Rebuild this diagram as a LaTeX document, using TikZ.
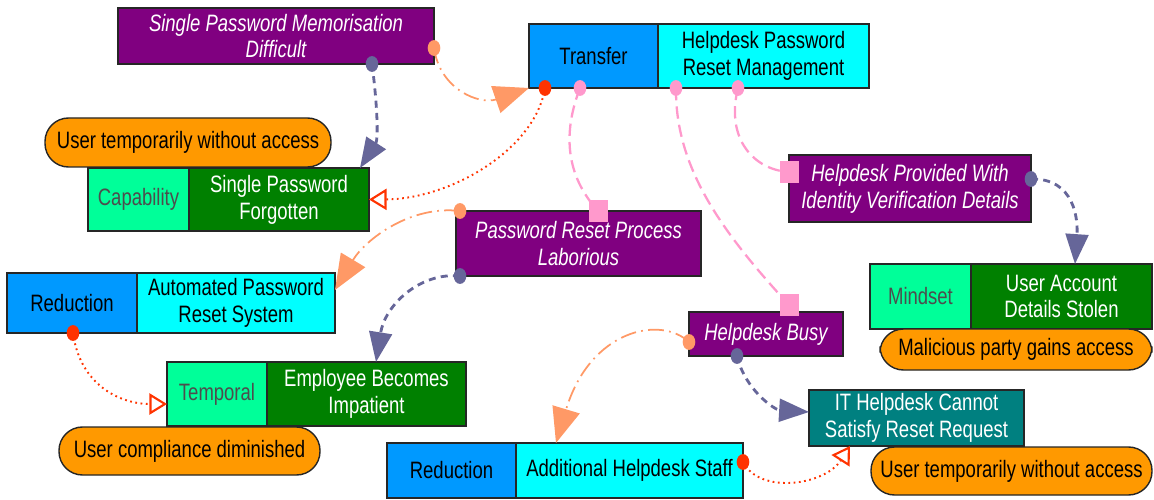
\documentclass[tikz,border=0pt]{standalone}
\usepackage{fontspec}
\setmainfont{Liberation Sans}[FakeStretch=0.78]
\usetikzlibrary{arrows.meta,calc}

\newdimen\upx \upx=0.02cm
\newcommand\fsz{\fontsize{13.5}{15.3}\selectfont}

\definecolor{cPurple}{HTML}{800080}
\definecolor{cBlue}{HTML}{0099FF}
\definecolor{cCyan}{HTML}{00FFFF}
\definecolor{cGreen}{HTML}{008000}
\definecolor{cMint}{HTML}{00FF99}
\definecolor{cOrange}{HTML}{FF9900}
\definecolor{cTeal}{HTML}{008080}
\definecolor{cSlate}{HTML}{666699}
\definecolor{cPeach}{HTML}{FF9966}
\definecolor{cRed}{HTML}{FF3300}
\definecolor{cPink}{HTML}{FF99CC}
\definecolor{cGrey}{HTML}{4D4D4D}

% box given by its corners in pixel units
\newcommand\ibox[7]{\node[#6, anchor=north west,
  minimum width={(#4-#2)*\upx}, minimum height={(#5-#3)*\upx}] (#1) at (#2,#3) {#7};}
\newcommand\dotat[2]{\fill[#1] (#2) ellipse [x radius=3.6pt, y radius=4.5pt];}

\tikzset{
  box/.style={draw=black!85, line width=0.8pt, inner sep=1pt, outer sep=0pt,
    align=center, font=\fsz},
  purp/.style={box, fill=cPurple, text=white, font=\fsz\itshape},
  blu/.style={box, fill=cBlue, text=black},
  cya/.style={box, fill=cCyan, text=black},
  grn/.style={box, fill=cGreen, text=white},
  mnt/.style={box, fill=cMint, text=cGrey},
  tea/.style={box, fill=cTeal, text=white},
  pill/.style={box, fill=cOrange, text=black, rounded corners=0.47cm},
  sq/.style={fill=cPink, minimum width=0.38cm, minimum height=0.44cm, inner sep=0pt},
  slateline/.style={cSlate, line width=1.6pt, dash pattern=on 4pt off 3pt,
    -{Triangle[length=17pt,width=13pt]}},
  peachline/.style={cPeach, line width=1pt, dash pattern=on 9pt off 3pt on 1pt off 3pt,
    -{Triangle[length=20pt,width=16pt]}},
  redline/.style={cRed, line width=1.1pt, dash pattern=on 1pt off 2pt,
    -{Triangle[open,length=10pt,width=12pt,line width=1.2pt]}},
  pinkline/.style={cPink, line width=1.3pt, dash pattern=on 7pt off 3.5pt},
}

\begin{document}
\begin{tikzpicture}[x=0.02cm, y=-0.02cm]
\useasboundingbox (0,0) rectangle (1154,500);

% ---- boxes ----
\ibox{memo}{118}{8}{434}{64}{purp}{Single Password Memorisation\\Difficult}
\ibox{trans}{529}{24}{658}{88}{blu}{Transfer}
\ibox{hprm}{658}{24}{869}{88}{cya}{Helpdesk Password\\Reset Management}
\ibox{cap}{88}{168}{189}{231}{mnt}{Capability}
\ibox{spf}{189}{168}{369}{231}{grn}{Single Password\\Forgotten}
\ibox{prp}{456}{211}{701}{276}{purp}{Password Reset Process\\Laborious}
\ibox{hpw}{789}{155}{1031}{222}{purp}{Helpdesk Provided With\\Identity Verification Details}
\ibox{red1}{7}{273}{137}{333}{blu}{Reduction}
\ibox{apr}{137}{273}{335}{333}{cya}{Automated Password\\Reset System}
\ibox{temp}{167}{362}{267}{426}{mnt}{Temporal}
\ibox{ebi}{267}{362}{466}{426}{grn}{Employee Becomes\\Impatient}
\ibox{hb}{689}{312}{843}{356}{purp}{Helpdesk Busy}
\ibox{red2}{387}{443}{516}{498}{blu}{Reduction}
\ibox{ahs}{516}{443}{743}{498}{cya}{Additional Helpdesk Staff}
\ibox{ith}{809}{390}{1024}{446}{tea}{IT Helpdesk Cannot\\Satisfy Reset Request}
\ibox{mind}{870}{264}{971}{329}{mnt}{Mindset}
\ibox{uads}{971}{264}{1152}{329}{grn}{User Account\\Details Stolen}

% ---- consequence pills ----
\ibox{pill1}{45}{118}{331}{167}{pill}{User temporarily without access}
\ibox{pill2}{59}{427}{320}{475}{pill}{User compliance diminished}
\ibox{pill3}{871}{447}{1152}{495}{pill}{User temporarily without access}
\ibox{pill4}{880}{329}{1152}{370}{pill}{Malicious party gains access}

% ---- ports ----
\coordinate (aS) at ([xshift=254\upx]memo.south west);
\coordinate (aE) at ([xshift=-9\upx]spf.north east);
\coordinate (bS) at ([yshift=16\upx]memo.south east);
\coordinate (cS) at ([xshift=16\upx]trans.south west);
\coordinate (dS) at ([xshift=51\upx]trans.south west);
\coordinate (dE) at ([xshift=142\upx]prp.north west);
\coordinate (eS) at ([xshift=18\upx]hprm.south west);
\coordinate (eE) at ([xshift=100\upx,yshift=7\upx]hb.north west);
\coordinate (fS) at ([xshift=80\upx]hprm.south west);
\coordinate (fE) at ([yshift=-17\upx]hpw.north west);
\coordinate (gS) at ([xshift=4\upx]prp.north west);
\coordinate (gE) at ([yshift=-17\upx]apr.north east);
\coordinate (hS) at ([xshift=4\upx]prp.south west);
\coordinate (hE) at ([xshift=109\upx]ebi.north west);
\coordinate (iS) at ([xshift=66\upx]red1.south west);
\coordinate (iE) at ([yshift=-10\upx]temp.west);
\coordinate (jS) at ([yshift=-30\upx]hb.north west);
\coordinate (jE) at ([xshift=40\upx]ahs.north west);
\coordinate (kS) at ([xshift=48\upx]hb.south west);
\coordinate (kE) at ([yshift=-22\upx]ith.north west);
\coordinate (lS) at ([yshift=-19\upx]ahs.north east);
\coordinate (lE) at ([xshift=41\upx]ith.south west);
\coordinate (mS) at ([yshift=-24\upx]hpw.north east);
\coordinate (mE) at ([xshift=104\upx]uads.north west);

% ---- connectors ----
\draw[slateline] (aS) .. controls (378,110) and (378,140) .. (aE);
\draw[peachline] (bS) .. controls (440,90) and (480,105) .. (trans.south west);
\draw[redline] (cS) .. controls (535,150) and (450,199) .. (spf.east);
\draw[pinkline] (dS) .. controls (560,140) and (570,180) .. (dE);
\draw[pinkline] (eS) .. controls (675,170) and (725,235) .. (eE);
\draw[pinkline] (fS) .. controls (725,140) and (755,170) .. (fE);
\draw[peachline] (gS) .. controls (410,205) and (365,240) .. (gE);
\draw[slateline] (hS) .. controls (420,272) and (385,305) .. (hE);
\draw[redline] (iS) .. controls (80,385) and (120,404) .. (iE);
\draw[peachline] (jS) .. controls (660,315) and (590,330) .. (jE);
\draw[slateline] (kS) .. controls (745,390) and (775,410) .. (kE);
\draw[redline] (lS) .. controls (760,495) and (825,485) .. (lE);
\draw[slateline] (mS) .. controls (1075,178) and (1078,220) .. (mE);

% ---- end markers ----
\dotat{cSlate}{aS}
\dotat{cPeach}{bS}
\dotat{cRed}{cS}
\dotat{cPink}{dS}
\dotat{cPink}{eS}
\dotat{cPink}{fS}
\dotat{cPeach}{gS}
\dotat{cSlate}{hS}
\dotat{cRed}{iS}
\dotat{cPeach}{jS}
\dotat{cSlate}{kS}
\dotat{cRed}{lS}
\dotat{cSlate}{mS}
\node[sq] (sqd) at (dE) {};
\node[sq] (sqe) at (eE) {};
\node[sq] (sqf) at (fE) {};
\end{tikzpicture}
\end{document}
